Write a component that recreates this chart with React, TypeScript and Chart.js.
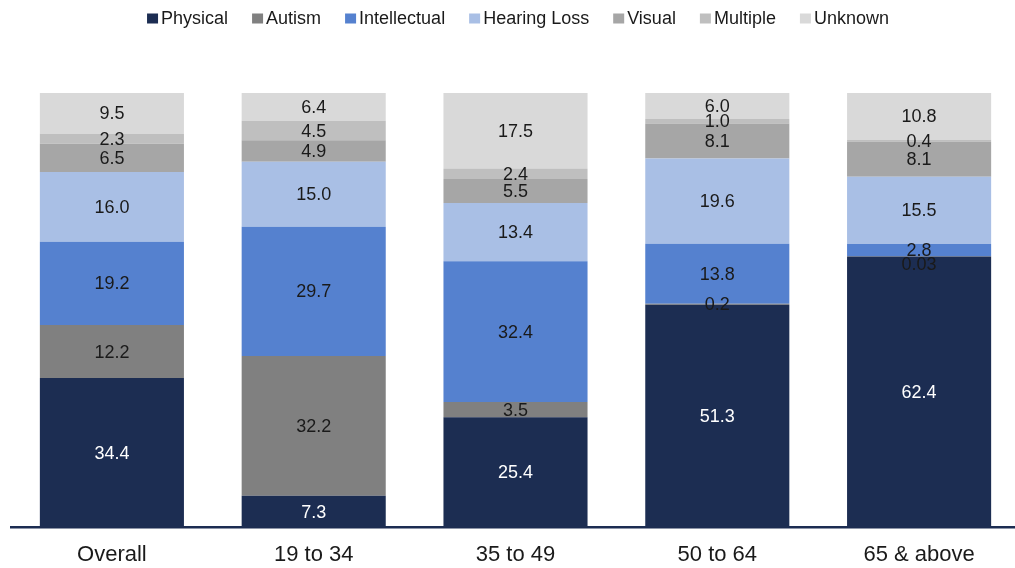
import React, { useEffect, useRef } from "react";
import { Chart, registerables } from "chart.js";

Chart.register(...registerables);

const categories = ["Overall", "19 to 34", "35 to 49", "50 to 64", "65 & above"];
const seriesNames = ["Physical", "Autism", "Intellectual", "Hearing Loss", "Visual", "Multiple", "Unknown"];
const physical = [34.4, 7.3, 25.4, 51.3, 62.4];
const autism = [12.2, 32.2, 3.5, 0.2, 0.03];
const intellectual = [19.2, 29.7, 32.4, 13.8, 2.8];
const hearingLoss = [16.0, 15.0, 13.4, 19.6, 15.5];
const visual = [6.5, 4.9, 5.5, 8.1, 8.1];
const multiple = [2.3, 4.5, 2.4, 1.0, 0.4];
const unknown = [9.5, 6.4, 17.5, 6.0, 10.8];
const seriesValues = [physical, autism, intellectual, hearingLoss, visual, multiple, unknown];
const colors = ["#1c2d52", "#808080", "#5581cf", "#a9bfe5", "#a6a6a6", "#bfbfbf", "#d9d9d9"];
const labelColors = ["#ffffff", "#1a1a1a", "#1a1a1a", "#1a1a1a", "#1a1a1a", "#1a1a1a", "#1a1a1a"];

const FONT = "'Liberation Sans', Arial, sans-serif";

const fmt = (v: number) => (v < 0.1 ? String(v) : v.toFixed(1));

export default function App() {
  const ref = useRef<HTMLCanvasElement | null>(null);
  useEffect(() => {
    document.body.style.margin = "0";
    const canvas = ref.current!;
    const labelPlugin = {
      id: "segLabels",
      afterDatasetsDraw(chart: any) {
        const ctx = chart.ctx;
        ctx.save();
        ctx.font = `18px ${FONT}`;
        ctx.textAlign = "center";
        ctx.textBaseline = "middle";
        const n = chart.data.labels.length;
        for (let i = 0; i < n; i++) {
          let prevY = -Infinity;
          for (let di = chart.data.datasets.length - 1; di >= 0; di--) {
            const ds = chart.data.datasets[di];
            const bar: any = chart.getDatasetMeta(di).data[i];
            let y = (bar.y + bar.base) / 2 + 1;
            if (y - prevY < 10) y = prevY + 14;
            prevY = y;
            ctx.fillStyle = labelColors[di];
            ctx.fillText(fmt(ds.data[i]), bar.x, y);
          }
        }
        ctx.restore();
      },
    };
    const legendPlugin = {
      id: "customLegend",
      afterDraw(chart: any) {
        const ctx = chart.ctx;
        ctx.save();
        ctx.font = `18px ${FONT}`;
        ctx.textBaseline = "middle";
        ctx.textAlign = "left";
        const box = 11;
        const gap = 3;
        const spacing = 24;
        const ds = chart.data.datasets;
        const widths = ds.map((d: any) => box + gap + ctx.measureText(d.label).width);
        const total = widths.reduce((a: number, b: number) => a + b, 0) + spacing * (ds.length - 1);
        let x = 518 - total / 2;
        const y = 19;
        ds.forEach((d: any, i: number) => {
          ctx.fillStyle = d.backgroundColor;
          ctx.fillRect(x, y - box / 2, box, box - 1);
          ctx.fillStyle = "#1a1a1a";
          ctx.fillText(d.label, x + box + gap, y);
          x += widths[i] + spacing;
        });
        ctx.restore();
      },
    };
    const chart = new Chart(canvas, {
      type: "bar",
      data: {
        labels: categories,
        datasets: seriesNames.map((name, i) => ({
          label: name,
          data: seriesValues[i],
          backgroundColor: colors[i],
          borderWidth: 0,
          barPercentage: 0.714,
          categoryPercentage: 1,
        })),
      },
      options: {
        responsive: false,
        animation: false,
        layout: { padding: { left: 11, right: 2, top: 93, bottom: -14 } },
        plugins: {
          legend: { display: false },
          tooltip: { enabled: false },
        },
        scales: {
          x: {
            stacked: true,
            grid: { display: false, drawTicks: false },
            border: { display: true, color: "#1c2d52", width: 2.5 },
            ticks: { color: "#1a1a1a", font: { family: FONT, size: 22 }, padding: 14 },
          },
          y: {
            stacked: true,
            display: false,
            min: 0,
            max: 100,
          },
        },
      },
      plugins: [labelPlugin, legendPlugin],
    });
    return () => chart.destroy();
  }, []);
  return (
    <div style={{ width: 1015, height: 568, overflow: "hidden" }}>
      <canvas ref={ref} width={1022} height={568} style={{ display: "block" }} />
    </div>
  );
}
